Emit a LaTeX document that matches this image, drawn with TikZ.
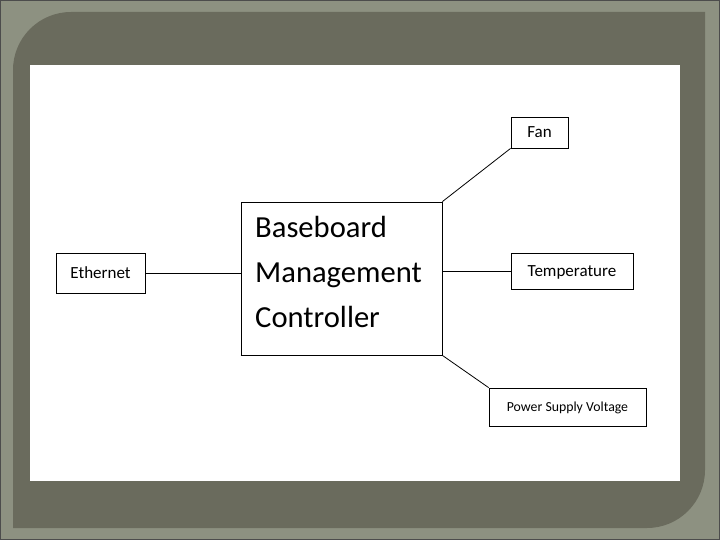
\documentclass[tikz,border=0pt]{standalone}
\usepackage{fontspec}
\setmainfont{Carlito}
\usepackage{tikz}
\usepackage{xcolor}
\definecolor{framegray}{HTML}{8D9181}
\definecolor{panelgray}{HTML}{6A6B5D}
\tikzset{
  unit/.style={draw,line width=0.8pt,inner sep=0pt,text height=11pt,text depth=0.5pt,font=\fontsize{17}{20}\selectfont},
  bmctext/.style={anchor=base west,inner sep=0pt,font=\fontsize{30.6}{36}\selectfont},
  link/.style={line width=0.8pt}
}
\begin{document}
\begin{tikzpicture}[x=1pt,y=-1pt]
\fill[framegray] (0,0) rectangle (720,540);
\draw[black!70,line width=1pt] (0.5,0.5) rectangle (719.5,539.5);
\fill[panelgray] (13,528) [rounded corners=58pt] -- (13,12) [sharp corners] -- (705,12) [rounded corners=58pt] -- (705,528) [sharp corners] -- cycle;
\fill[white] (30,65) rectangle (680,481);
\node[draw,line width=0.8pt,minimum width=201pt,minimum height=153pt] (bmc) at (341.5,278.5) {};
\draw[line width=1.8pt] (bmc.south west) -- (bmc.south east);
\node[bmctext] (bmcA) at (255,237) {Baseboard};
\node[bmctext] (bmcB) at (255,282) {Management};
\node[bmctext] (bmcC) at (255,327) {Controller};
\node[unit,minimum width=89pt,minimum height=40pt] (eth) at (100.5,273) {Ethernet};
\node[unit,minimum width=57pt,minimum height=31pt] (fan) at (539.5,132.5) {Fan};
\node[unit,minimum width=122pt,minimum height=36pt] (temp) at (572,271) {Temperature};
\node[unit,minimum width=157pt,minimum height=38pt,text height=9pt,text depth=0.5pt,font=\fontsize{13.8}{16}\selectfont] (psv) at (567.5,407) {Power Supply Voltage};
\draw[link] (eth.east) -- (eth.east -| bmc.west);
\draw[link] (temp.west -| bmc.east) -- (temp.west);
\draw[link] (bmc.north east) -- (fan.south west);
\draw[link] (bmc.south east) -- (psv.north west);
\end{tikzpicture}
\end{document}
